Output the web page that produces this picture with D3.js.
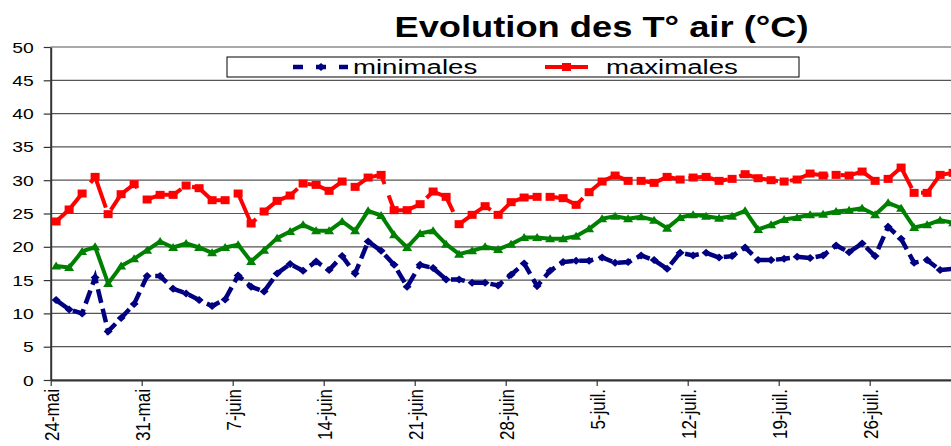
<!DOCTYPE html>
<html>
<head>
<meta charset="utf-8">
<script src="https://cdn.jsdelivr.net/npm/d3@7"></script>
<style>
  body { margin: 0; background: #fff; }
  svg { display: block; }
  text { font-family: "Liberation Sans", Arial, sans-serif; }
</style>
</head>
<body>
<div id="chart"></div>
<script>
// temperatures, one value a day from 24 May
const minimales = [12.0, 10.6, 10.0, 15.4, 7.3, 9.3, 11.4, 15.6, 15.6, 13.7,
  13.0, 12.0, 11.1, 12.1, 15.7, 14.0, 13.3, 16.0, 17.4, 16.4,
  17.8, 16.5, 18.6, 16.0, 20.8, 19.4, 17.3, 14.0, 17.3, 16.8,
  15.1, 15.1, 14.6, 14.6, 14.2, 15.8, 17.5, 14.1, 16.4, 17.7,
  17.9, 17.9, 18.4, 17.6, 17.7, 18.7, 18.0, 16.7, 19.1, 18.7,
  19.1, 18.4, 18.6, 19.9, 18.0, 18.0, 18.2, 18.5, 18.3, 18.7,
  20.2, 19.2, 20.5, 18.6, 23.0, 21.2, 17.6, 18.0, 16.5, 16.7];

const maximales = [23.8, 25.6, 28.0, 30.5, 24.9, 27.9, 29.4, 27.1, 27.8, 27.8,
  29.2, 28.8, 27.0, 27.0, 28.0, 23.5, 25.3, 26.9, 27.7, 29.5,
  29.3, 28.4, 29.8, 29.0, 30.4, 30.8, 25.5, 25.5, 26.4, 28.3,
  27.5, 23.4, 24.8, 26.1, 24.8, 26.7, 27.4, 27.5, 27.5, 27.3,
  26.3, 28.2, 29.8, 30.7, 29.9, 29.9, 29.6, 30.5, 30.1, 30.4,
  30.5, 29.9, 30.2, 30.9, 30.3, 30.0, 29.8, 30.1, 31.0, 30.7,
  30.8, 30.7, 31.3, 29.9, 30.2, 31.9, 28.1, 28.1, 30.8, 31.1];

const moyennes = [17.1, 16.9, 19.3, 20.0, 14.5, 17.1, 18.2, 19.5, 20.8, 19.9,
  20.5, 19.9, 19.1, 19.9, 20.3, 17.8, 19.5, 21.3, 22.3, 23.3,
  22.4, 22.4, 23.8, 22.4, 25.4, 24.7, 21.8, 19.9, 22.0, 22.4,
  20.4, 18.9, 19.4, 20.0, 19.6, 20.4, 21.4, 21.4, 21.2, 21.2,
  21.6, 22.7, 24.2, 24.6, 24.2, 24.5, 24.0, 22.8, 24.4, 24.8,
  24.6, 24.3, 24.6, 25.4, 22.6, 23.3, 24.1, 24.4, 24.8, 24.9,
  25.3, 25.5, 25.8, 24.8, 26.6, 25.8, 22.9, 23.3, 24.0, 23.6];

const tickDays = ["2009-05-24", "2009-05-31", "2009-06-07", "2009-06-14", "2009-06-21",
  "2009-06-28", "2009-07-05", "2009-07-12", "2009-07-19", "2009-07-26"];
const tickLabels = ["24-mai", "31-mai", "7-juin", "14-juin", "21-juin",
  "28-juin", "5-juil.", "12-juil.", "19-juil.", "26-juil."];
const yTicks = [0, 5, 10, 15, 20, 25, 30, 35, 40, 45, 50];

document.addEventListener('DOMContentLoaded', () => {

  let width = 951, height = 446;
  let x0 = 50.7, dayW = 13;
  let stretch = 1.38; // the picture is widened, so glyphs are too

  let parse = d3.utcParse("%Y-%m-%d");
  let start = parse(tickDays[0]);
  let tickDates = tickDays.map(parse);

  let x = d3.scaleUtc()
    .domain([start, d3.utcDay.offset(start, 70)])
    .range([x0, x0 + 70 * dayW]);
  let y = d3.scaleLinear().domain([0, 50]).range([380, 47]);

  function dayOf(i) {
    return d3.utcHour.offset(d3.utcDay.offset(start, i), 10);
  }

  let svg = d3.select("#chart").append("svg")
    .attr("width", width).attr("height", height)
    .style("background", "#fff");

  // grid
  svg.append("g").selectAll("line").data(yTicks).join("line")
    .attr("x1", x0).attr("x2", width)
    .attr("y1", d => y(d)).attr("y2", d => y(d))
    .attr("stroke", "#555").attr("stroke-width", 1.2);

  // y axis
  let yAxis = svg.append("g")
    .attr("transform", `translate(${x0},0)`)
    .call(d3.axisLeft(y).tickValues(yTicks).tickSize(7).tickSizeOuter(0));
  yAxis.attr("font-size", 14).attr("font-family", null);
  yAxis.select(".domain").attr("stroke", "#333").attr("stroke-width", 2);
  yAxis.selectAll(".tick line").attr("stroke", "#333").attr("stroke-width", 1.2);
  yAxis.selectAll(".tick text")
    .attr("x", null).attr("dy", "0.36em")
    .attr("fill", "#000")
    .attr("transform", `translate(-17,0) scale(${stretch},1)`);

  // x axis, labels turned upright
  let xAxis = svg.append("g")
    .attr("transform", "translate(0,380)")
    .call(d3.axisBottom(x).tickValues(tickDates)
      .tickFormat((d, i) => tickLabels[i]).tickSize(6).tickSizeOuter(0));
  xAxis.attr("font-size", 17).attr("font-family", null);
  xAxis.select(".domain").attr("stroke", "#333").attr("stroke-width", 2);
  xAxis.selectAll(".tick line").attr("stroke", "#333").attr("stroke-width", 1.2);
  xAxis.selectAll(".tick text")
    .attr("y", null).attr("dy", "0.36em")
    .attr("text-anchor", "end").attr("fill", "#000")
    .attr("transform", `translate(0,9) scale(1.2,1) rotate(-90)`);

  let line = d3.line()
    .x((d, i) => x(dayOf(i)))
    .y(d => y(d));

  let diamond = "M0,-4L4.5,0L0,4L-4.5,0Z";
  let triangle = "M0,-4.5L5,3.5L-5,3.5Z";

  // minimales
  svg.append("path").datum(minimales)
    .attr("d", line)
    .attr("fill", "none").attr("stroke", "#000080")
    .attr("stroke-width", 4.5).attr("stroke-dasharray", "14,6");
  svg.append("g").selectAll("path").data(minimales).join("path")
    .attr("d", diamond)
    .attr("transform", (d, i) => `translate(${x(dayOf(i))},${y(d)})`)
    .attr("fill", "#000080");

  // maximales
  svg.append("path").datum(maximales)
    .attr("d", line)
    .attr("fill", "none").attr("stroke", "#ff0000")
    .attr("stroke-width", 4).attr("stroke-dasharray", "40,12");
  svg.append("g").selectAll("rect").data(maximales).join("rect")
    .attr("x", (d, i) => x(dayOf(i)) - 4.5)
    .attr("y", d => y(d) - 4)
    .attr("width", 9).attr("height", 8)
    .attr("fill", "#ff0000");

  // moyennes (not in the legend)
  svg.append("path").datum(moyennes)
    .attr("d", line)
    .attr("fill", "none").attr("stroke", "#008000")
    .attr("stroke-width", 4).attr("stroke-linejoin", "round");
  svg.append("g").selectAll("path").data(moyennes).join("path")
    .attr("d", triangle)
    .attr("transform", (d, i) => `translate(${x(dayOf(i))},${y(d)})`)
    .attr("fill", "#008000");

  // title
  svg.append("text")
    .attr("transform", `translate(601.5,37) scale(1.21,1)`)
    .attr("text-anchor", "middle")
    .attr("font-size", 30).attr("font-weight", "bold")
    .text("Evolution des T° air (°C)");

  // legend
  let legend = svg.append("g");
  legend.append("rect")
    .attr("x", 227).attr("y", 57).attr("width", 572).attr("height", 20)
    .attr("fill", "#fff").attr("stroke", "#000").attr("stroke-width", 1);
  legend.append("line")
    .attr("x1", 293).attr("x2", 348).attr("y1", 67).attr("y2", 67)
    .attr("stroke", "#000080").attr("stroke-width", 4.5)
    .attr("stroke-dasharray", "10,13");
  legend.append("path")
    .attr("d", diamond).attr("transform", "translate(321,67)")
    .attr("fill", "#000080");
  legend.append("line")
    .attr("x1", 545).attr("x2", 588).attr("y1", 67).attr("y2", 67)
    .attr("stroke", "#ff0000").attr("stroke-width", 4);
  legend.append("rect")
    .attr("x", 562).attr("y", 63).attr("width", 9).attr("height", 8)
    .attr("fill", "#ff0000");
  legend.append("text")
    .attr("transform", `translate(353,74) scale(${stretch},1)`)
    .attr("font-size", 20).text("minimales");
  legend.append("text")
    .attr("transform", `translate(606,74) scale(${stretch},1)`)
    .attr("font-size", 20).text("maximales");
});
</script>
</body>
</html>
